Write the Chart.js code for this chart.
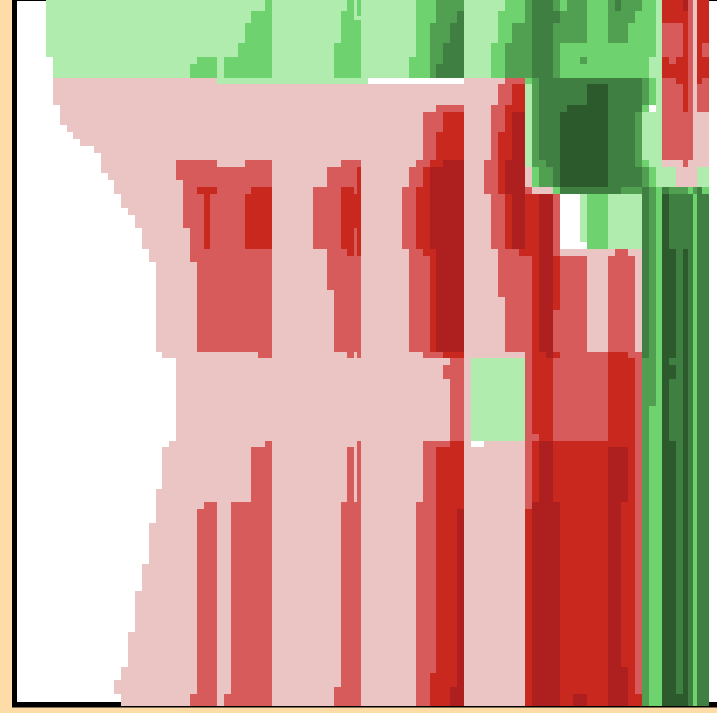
<!DOCTYPE html>
<html>
<head>
<meta charset="utf-8">
<title>Heat map</title>
<script src="https://cdn.jsdelivr.net/npm/chart.js@4"></script>
<style>
    html, body { margin: 0; padding: 0; background: #FEDCA8; overflow: hidden; }
    canvas { display: block; }
</style>
</head>
<body>
<canvas id="chart" width="717" height="713"></canvas>
<script>
// Cell blocks per colour class: [colStart, colEnd, rowStart, rowEnd]
const paleRed = [
    [1,70,11,15],[2,70,15,18],[3,70,18,19],[4,70,19,20],[5,70,20,21],[7,70,21,22],[8,70,22,25],
    [9,70,25,26],[10,70,26,28],[11,70,28,30],[12,70,30,31],[13,70,31,33],[14,70,33,36],[15,70,36,38],
    [16,70,38,51],[17,70,51,52],[19,70,52,64],[18,70,64,65],[17,70,65,71],[16,70,71,76],[15,70,76,82],
    [14,70,82,86],[13,70,86,92],[12,70,92,97],[11,70,97,99],[10,70,99,101],[11,70,101,102.8],
    [75,83,36,37],[79,82,37,51],[85,87,36,37],[86,87,37,51],
    [94.45,95,-1,16],[94.45,96.74,16,24],[90,96.74,23,24],[92,95,24,27],
    [70,71,24,27],[71,74,27,28],[45,45.45,-1,2.6],[45.45,46,2,2.6]
];
const midRed = [
    [19,25,23,24],[29,33,23,24],[19,33,24,26],[20,33,26,33],[21,33,33,38],[22,33,38,51],[31,33,51,52],
    [43,46,23,24],[41,46,24,27],[39,46,27,36],[41,46,36,42],[42,46,42,51],[44,45,51,52],[45.4,46,51,52],
    [57,61,15,16],[55,61,16,23],[54,56,23,24],[53,56,24,27],[52,56,27,36],[53,57,36,51],[55,58,51,52],
    [59,61,52,64],[58,59,53,55],[55,59,64,65],[32,33,64,65],[30,33,65,73],[27,33,73,101],[26,33,101,102.8],
    [23,25,73,74],[22,25,74,101],[21,25,101,102.8],[44,45,65,73],[45.4,46,64,73],[43,46,73,100],[42,46,100,102.8],
    [55,57,65,73],[54,57,73,102.8],
    [67,70,11,12],[66,68,12,15],[65,67,15,19],[65,66,19,23],[64,66,23,28],[65,67,28,36],[66,71,36,43],
    [67,71,43,51],[70,71,51,74],[70,71,27,28],[74,75,28,37],[74,79,37,64],[79,82,51,64],[82,85,37,51],[83,85,36,37],
    [85,86,37,52],[86,87,51,101],[71,72,63,64],
    [90,93,3,8],[91,92,8,9],[90,93,11,23],[93,94.45,16,23],[93.72,94.45,-1,16],[95.8,96.74,6,8],
    [95.8,96.74,11,12],[95,96.74,12,16],[93,93.72,23,24]
];
const strongRed = [
    [22,25,27,28],[23,24,28,36],[30,33,27,28],[29,33,28,36],
    [43,45,27,36],[44,45,36,37],[45.45,46,24,37],[45,45.45,28,33],
    [58,61,16,19],[57,61,19,23],[56,58,23,24],[55,56,24,27],[54,56,27,36],[55,57,36,37],[56,57,37,51],[58,61,51,52],
    [59,61,64,65],[57,61,65,102.8],[56,57,98,102.8],
    [68,70,12,15],[67,70,15,16],[67,68,16,23],[66,67,19,28],[67,68,28,36],[69,72,36,37],[70,72,28,36],
    [71,72,37,63],[72,74,51,64],[74,75,37,45],[74,75,51,52],[71,86,64,102.8],[70,71,74,102.8],[86,87,101,102.8],
    [82,85,51,64],[85,86,52,64],
    [90,93,-1,3],[90,91,8,11],[92,93,8,11],[91,92,9,11],[93,93.72,-1,16],[92,93,11,12],
    [95,96.74,-1,6],[95,96.74,8,11],[95,95.8,6,8],[95,95.8,11,12]
];
const darkRed = [
    [68,70,16,36],[67,68,23,28],[72,74,28,51],[73,74,51,52],[56,61,24,36],[57,61,36,51],[58,61,23,24],
    [60,61,74,100],[59,61,100,102.8],[72,74,64,73],[71,75,73,102.8],[82,85,65,73],[82,84,73,97],
    [82,85,97,102.8],[77,79,101,102.8],[93,93.72,-1,1.3]
];
const paleGreen = [
    [0,67,-1,8],[1,70,8,11],[25,47,11,12],[70,71,12,24],[62,70,52,64],
    [89,90,-1,8],[88,90,8,11],[89,90,11,16],[87,90,16,23],[88,90,23,24],[89,92,24,27],[95,96.74,24,27],
    [78,79,28,35],[82,87,28,36]
];
const lightGreen = [
    [21,25,9,11],[22,25,8,9],[26,33,8,11],[28,33,6,8],[29,33,3,6],[30,33,1.33,3],[32,33,-1,1.33],
    [42,46,6,11],[43,45,1.33,6],[45,46,2.6,6],[45.45,46,1.33,2],[44,45,-1,1.33],[45.45,46,-1,1.33],
    [54,61,-1,8],[53,61,8,11],
    [67,70,-1,1.33],[66,70,1.33,6],[65,70,6,11],[70,71,11,12],
    [75,89,6,8],[75,88,8,11],[75,76,-1,1.33],[79,82,-1,6],[87,89,-1,1.33],[86,89,1.33,3],[85,89,3,6],
    [88,89,11,15],[87,88,15,16],[87,88,23,24],[71,72,24,27],[74,75,27,28],[79,82,28,36],[88,89,24,27],
    [88,89,59,102.8],[89,90,27,102.8],[94.45,95,28,102.8],[93.72,94.45,27,28],[95.8,96.74,27,28]
];
const midGreen = [
    [57,61,-1,3],[56,61,3,11],
    [70,71,-1,3],[68,71,3,6],[67,71,6,11],
    [74,75,-1,1.33],[76,79,-1,1.33],[75,79,1.33,3],[74,79,3,6],[74,75,6,11],[78,79,8,9],
    [82,87,-1,1.33],[82,86,1.33,3],[82,85,3,6],
    [71,72,11,23],[71,73,23,24],[72,74,24,27],[86,87,16,24],[87,88,11,15],[87,88,24,27],[84,87,27,28],
    [88,89,27,59],[87,88,52,102.8],[91,93.72,27,28],[94.45,95,27,28]
];
const darkGreen = [
    [60,61,1.33,3],[59,61,3,6],[58,61,6,9],[57,61,9,11],
    [71,74,-1,11],[74,75,1.33,3],[83,84,-1,1.33],
    [72,87,11,16],[72,86,16,23],[73,86,23,24],[74,87,24,27],[75,84,27,28],
    [87,88,27,52],[90,91,27,28],[91,92,28,36],[92,93,28,101],[93,93.72,28,36],[93.72,94.45,28,102.8],
    [95,96.74,28,102.8],[95,95.8,27,28],[91,92,52,53],[91,92,55,64]
];
const darkestGreen = [
    [79,82,12,15],[76,82,15,16],[75,82,16,27],[90,91,28,102.8],[91,92,36,52],[91,92,53,55],
    [91,92,64,102.8],[93,93.72,36,102.8],[92,93,101,102.8]
];
const emptyCells = [[47,61,11,12],[62,64,64,65],[75,78,28,36],[78,79,35,36]];

// Colour of each class, in drawing order
const layers = [
    [paleRed, '#EBC4C4'],
    [midRed, '#D75B5B'],
    [strongRed, '#C9281E'],
    [darkRed, '#AE1F1F'],
    [paleGreen, '#AFECAE'],
    [lightGreen, '#6ED26E'],
    [midGreen, '#519F50'],
    [darkGreen, '#3F7F42'],
    [darkestGreen, '#2C5A2C'],
    [emptyCells, '#FFFFFF']
];

const cellSize = 6.85;

// One floating bar per block, wide as the block on the x scale
const datasets = [];
layers.forEach(([blocks, color]) => {
    blocks.forEach(([c0, c1, r0, r1]) => {
        datasets.push({
            data: [{ x: (c0 + c1) / 2, y: [r0, r1] }],
            backgroundColor: color,
            barThickness: (c1 - c0) * cellSize,
            stack: 'cells',
            clip: false,
            inflateAmount: 0,
            borderWidth: 0
        });
    });
});
// Chart.js paints the first dataset on top, so the last layer goes first
datasets.reverse();

// White plot background
const plotBackground = {
    id: 'plotBackground',
    beforeDraw(chart) {
        const { ctx, chartArea } = chart;
        ctx.save();
        ctx.fillStyle = '#FFFFFF';
        ctx.fillRect(chartArea.left, chartArea.top, chartArea.right - chartArea.left, chartArea.bottom - chartArea.top);
        ctx.restore();
    }
};

// Round the bar edges to whole pixels so no seams show between blocks
const snapBars = {
    id: 'snapBars',
    beforeDatasetsDraw(chart) {
        chart.getSortedVisibleDatasetMetas().forEach(meta => {
            meta.data.forEach(bar => {
                const left = Math.round(bar.x - bar.width / 2);
                const right = Math.round(bar.x + bar.width / 2);
                bar.x = (left + right) / 2;
                bar.width = right - left;
                bar.y = Math.round(bar.y);
                bar.base = Math.round(bar.base);
                bar.height = bar.base - bar.y;
            });
        });
    }
};

const hiddenAxis = (borderWidth) => ({
    display: true,
    ticks: { display: false },
    grid: { drawOnChartArea: false, drawTicks: false },
    border: { display: true, color: '#000000', width: borderWidth }
});

new Chart(document.getElementById('chart'), {
    type: 'bar',
    data: { datasets },
    plugins: [plotBackground, snapBars],
    options: {
        responsive: false,
        animation: false,
        events: [],
        layout: { padding: { left: 14.2, top: 0, right: 0, bottom: 8 } },
        plugins: { legend: { display: false }, tooltip: { enabled: false } },
        scales: {
            x: { type: 'linear', offset: false, min: -4.642, max: 97.96, ...hiddenAxis(5.4) },
            xTop: { type: 'linear', axis: 'x', position: 'top', min: -4.642, max: 97.96, ...hiddenAxis(2) },
            y: { type: 'linear', reverse: true, stacked: false, min: -0.321, max: 102.6, ...hiddenAxis(5) }
        }
    }
});
</script>
</body>
</html>
